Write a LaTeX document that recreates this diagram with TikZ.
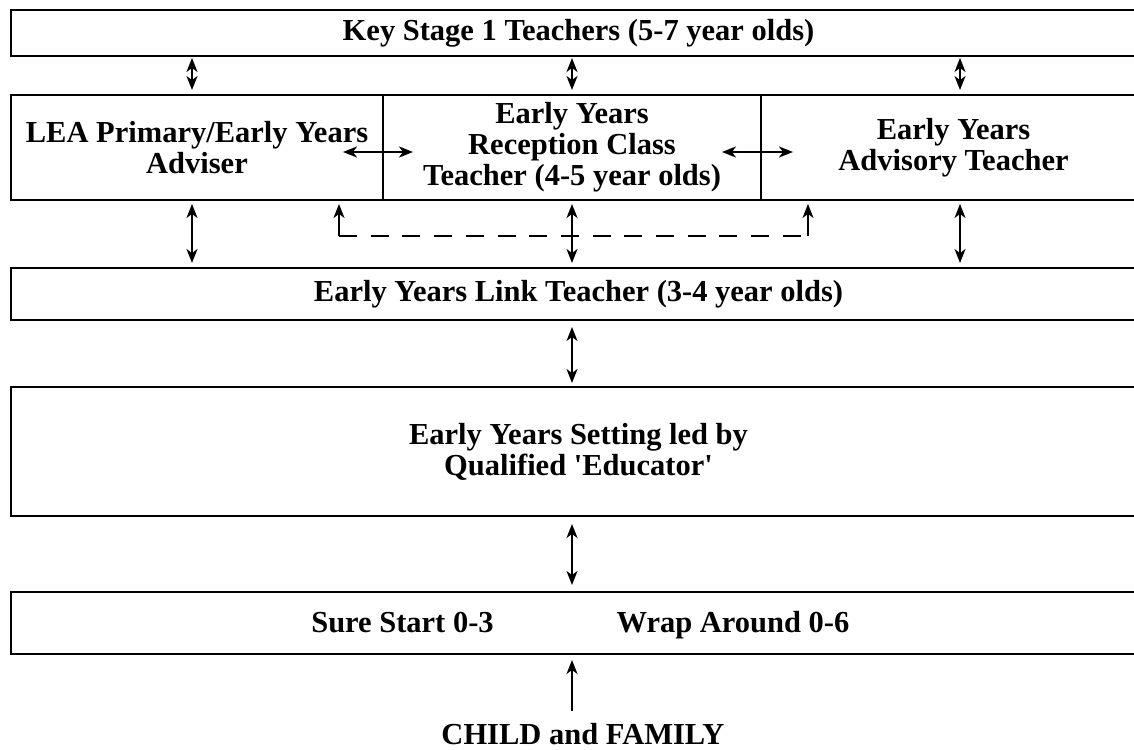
\documentclass[tikz,border=0pt]{standalone}
\usepackage{fontspec}
\setmainfont{Liberation Serif}
\usetikzlibrary{arrows.meta}

\tikzset{
  riquadro/.style={draw, line width=2pt, rectangle, align=center, inner sep=0pt,
    font=\fontsize{30.5pt}{31pt}\selectfont\bfseries},
  testo/.style={align=center, inner sep=0pt, font=\fontsize{30.5pt}{31pt}\selectfont\bfseries},
  freccia/.style={line width=1.8pt, -{Stealth[length=14pt,width=11pt,inset=4pt]}},
  dfreccia/.style={line width=1.8pt,
    {Stealth[length=14pt,width=11pt,inset=4pt]}-{Stealth[length=14pt,width=11pt,inset=4pt]},
    shorten <=3pt, shorten >=4pt},
  tratteggio/.style={line width=2pt, dash pattern=on 18pt off 13.7pt}
}

\begin{document}
\begin{tikzpicture}[x=1pt,y=-1pt]
	\useasboundingbox (0,0) rectangle (1134,749);
	\clip (0,0) rectangle (1134,749);

	% riquadri
	\node[riquadro, minimum width=1135pt, minimum height=46pt] (ks1) at (578.5,33) {Key Stage 1 Teachers (5-7 year olds)};
	\node[riquadro, minimum width=372pt, minimum height=105pt] (lea) at (197,147.5) {LEA Primary/Early Years\\Adviser};
	\node[riquadro, minimum width=378pt, minimum height=105pt] (rec) at (572,147.5) {Early Years\\Reception Class\\Teacher (4-5 year olds)};
	\node[riquadro, minimum width=385pt, minimum height=105pt] (adv) at (953.5,147.5) {Early Years\\Advisory Teacher};
	\node[riquadro, minimum width=1135pt, minimum height=52pt] (link) at (578.5,294) {Early Years Link Teacher (3-4 year olds)};
	\node[riquadro, minimum width=1135pt, minimum height=129pt] (setting) at (578.5,451.5) {Early Years Setting led by\\Qualified \textquotesingle Educator\textquotesingle};
	\node[riquadro, minimum width=1135pt, minimum height=62pt] (surewrap) at (578.5,623) {};
	\node[testo, anchor=base] (sure) at (402.5,632) {Sure Start 0-3};
	\node[testo, anchor=base] (wrap) at (733,632) {Wrap Around 0-6};
	\node[testo, anchor=base] (child) at (583,744) {CHILD and FAMILY};

	% colonne delle frecce
	\coordinate (xl) at (192,0);
	\coordinate (xm) at (572,0);
	\coordinate (xr) at (960,0);

	% frecce verticali
	\draw[dfreccia, shorten <=1pt] (ks1.south -| xl) -- (lea.north -| xl);
	\draw[dfreccia, shorten <=1pt] (ks1.south -| xm) -- (rec.north -| xm);
	\draw[dfreccia, shorten <=1pt] (ks1.south -| xr) -- (adv.north -| xr);
	\draw[dfreccia] (lea.south -| xl) -- (link.north -| xl);
	\draw[dfreccia] (rec.south -| xm) -- (link.north -| xm);
	\draw[dfreccia] (adv.south -| xr) -- (link.north -| xr);
	\draw[dfreccia, shorten <=6pt, shorten >=3pt] (link.south -| xm) -- (setting.north -| xm);
	\draw[dfreccia, shorten <=7pt, shorten >=6pt] (setting.south -| xm) -- (surewrap.north -| xm);
	\draw[freccia, shorten <=12pt, shorten >=5pt] (child.north -| xm) -- (surewrap.south -| xm);

	% frecce orizzontali
	\draw[dfreccia, shorten <=0pt, shorten >=0pt] ([xshift=-41pt,yshift=-4.5pt]lea.east) -- ([xshift=31pt,yshift=-4.5pt]rec.west);
	\draw[dfreccia, shorten <=0pt, shorten >=0pt] ([xshift=-38pt,yshift=-4.5pt]adv.west) -- ([xshift=33pt,yshift=-4.5pt]adv.west);

	% collegamento tratteggiato
	\coordinate (dl) at (339,236);
	\coordinate (dr) at (808,236);
	\draw[tratteggio] (dl) -- (dr);
	\draw[freccia, shorten >=3pt] (dl) -- (lea.south -| dl);
	\draw[freccia, shorten >=3pt] (dr) -- (adv.south -| dr);

\end{tikzpicture}
\end{document}
